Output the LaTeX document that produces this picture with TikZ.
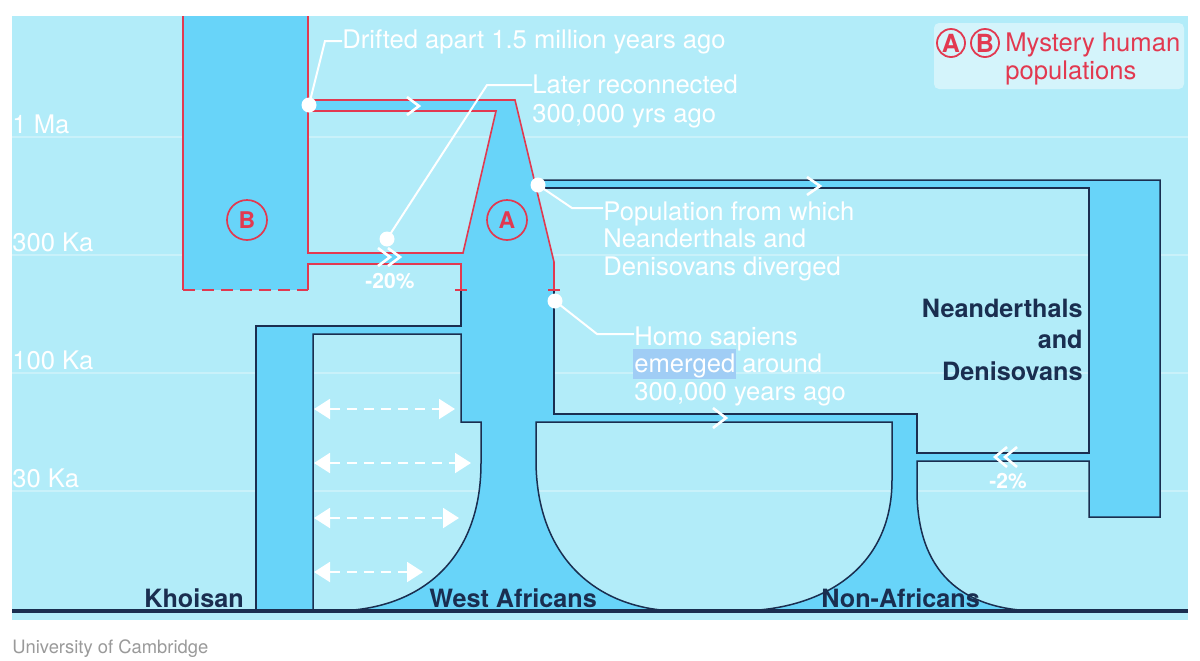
\documentclass[tikz,border=0pt]{standalone}
\usepackage{fontspec}
\setmainfont{TeX Gyre Heros}
\usetikzlibrary{arrows.meta}
\definecolor{panelblue}{HTML}{B2ECF9}
\definecolor{popblue}{HTML}{68D4F9}
\definecolor{navy}{HTML}{1A2E50}
\definecolor{mysred}{HTML}{E23950}
\definecolor{legendbg}{HTML}{D4F4FB}
\definecolor{selblue}{HTML}{A0CDF5}
\definecolor{creditgray}{HTML}{9A9A9A}
\tikzset{
  note/.style={text=white, font=\fontsize{12.8}{13.75}\selectfont,
    inner sep=0pt, align=left, anchor=base west},
  agelabel/.style={text=white, font=\fontsize{12.8}{14}\selectfont,
    inner sep=0pt, anchor=base west},
  poplabel/.style={text=navy, font=\bfseries\fontsize{12.6}{15.75}\selectfont,
    inner sep=0pt},
  flowpct/.style={text=white, font=\bfseries\fontsize{10.5}{12}\selectfont,
    inner sep=0pt, anchor=base},
  mystery/.style={circle, draw=mysred, line width=0.85pt, text=mysred,
    font=\bfseries\fontsize{11.5}{12}\selectfont, minimum size=20pt, inner sep=0pt},
  keycircle/.style={mystery, minimum size=14pt, line width=0.9pt,
    font=\bfseries\fontsize{12.5}{13}\selectfont},
  popline/.style={draw=navy, line width=0.75pt},
  redline/.style={draw=mysred, line width=0.8pt},
  leader/.style={white, line width=1pt},
  joindot/.style={circle, fill=white, minimum size=7.5pt, inner sep=0pt},
  chev/.style={white, line width=1.3pt},
  mix/.style={white, line width=1pt, dash pattern=on 5pt off 3.5pt,
    {Triangle[length=8pt,width=10pt]}-{Triangle[length=8pt,width=10pt]}},
  ageline/.style={white, opacity=0.3, line width=0.6pt},
}

\begin{document}
\begin{tikzpicture}[x=0.5pt, y=-0.5pt]

  \useasboundingbox (0,0) rectangle (1200,660);
  \fill[white] (0,0) rectangle (1200,660);
  \fill[panelblue] (12,16) rectangle (1188,620);

  % time scale
  \foreach \y in {137,255,373,491}
    \draw[ageline] (12,\y) -- (1188,\y);
  \foreach \lab/\y [count=\i] in {1 Ma/133, 300 Ka/251, 100 Ka/369, 30 Ka/487}
    \node[agelabel] (age\i) at (12,\y) {\lab};

  % population B
  \fill[popblue] (183,16) rectangle (308,290);

  % population A and everything that branches off it
  \fill[popblue, even odd rule]
    (308,100) -- (515,100) -- (534,180) -- (1160,180) -- (1160,517)
    -- (1089,517) -- (1089,461) -- (917,461) -- (917,490)
    .. controls (917,570) and (960,611) .. (1040,611) -- (737,611)
    .. controls (820,611) and (892,570) .. (892,480) -- (892,422)
    -- (536,422) -- (536,460)
    .. controls (536,560) and (600,611) .. (680,611) -- (333,611)
    .. controls (420,611) and (481,560) .. (481,463) -- (481,422)
    -- (461,422) -- (461,334) -- (313,334) -- (313,611) -- (256,611)
    -- (256,326) -- (461,326) -- (461,264) -- (308,264) -- (308,253)
    -- (463,253) -- (496,111) -- (308,111) -- cycle
    (536,188) -- (1089,188) -- (1089,453) -- (917,453) -- (917,414)
    -- (554,414) -- (554,262) -- cycle;

  % outlines
  \draw[popline] (534,180) -- (1160,180) -- (1160,517) -- (1089,517)
    -- (1089,461) -- (917,461) -- (917,490)
    .. controls (917,570) and (960,611) .. (1040,611);
  \draw[popline] (536,188) -- (1089,188) -- (1089,453) -- (917,453)
    -- (917,414) -- (554,414) -- (554,290);
  \draw[popline] (737,611) .. controls (820,611) and (892,570) .. (892,480)
    -- (892,422) -- (536,422) -- (536,460)
    .. controls (536,560) and (600,611) .. (680,611);
  \draw[popline] (333,611) .. controls (420,611) and (481,560) .. (481,463)
    -- (481,422) -- (461,422) -- (461,334) -- (313,334) -- (313,611);
  \draw[popline] (256,611) -- (256,326) -- (461,326) -- (461,290);

  \draw[redline] (183,16) -- (183,290);
  \draw[redline, dash pattern=on 6pt off 3.5pt] (183,290) -- (308,290);
  \draw[redline] (308,16) -- (308,100) -- (515,100) -- (554,262) -- (554,290);
  \draw[redline] (308,111) -- (496,111) -- (463,253) -- (308,253) -- cycle;
  \draw[redline] (308,290) -- (308,264) -- (461,264) -- (461,290);
  \draw[redline] (455,290) -- (467,290);
  \draw[redline] (548,290) -- (560,290);

  \draw[navy, line width=1.6pt] (12,611) -- (1188,611);

  % flow direction
  \draw[chev] (407,97) -- (419,106) -- (407,115);
  \draw[chev] (807,177) -- (820,186) -- (807,195);
  \draw[chev] (713,408) -- (726,418) -- (713,428);
  \draw[chev] (378,248) -- (390,257) -- (378,266)
              (388,248) -- (400,257) -- (388,266);
  \draw[chev] (1007,447) -- (995,457) -- (1007,467)
              (1017,447) -- (1005,457) -- (1017,467);
  \node[flowpct] (pct20) at (390,288) {-20\%};
  \node[flowpct] (pct2) at (1008,488) {-2\%};

  % gene flow Khoisan <-> West Africans
  \foreach \y/\xr [count=\i] in {409/455, 463/471, 518/459, 572/423} {
    \coordinate (mixL\i) at (314,\y);
    \coordinate (mixR\i) at (\xr,\y);
    \draw[mix] (mixL\i) -- (mixR\i);
  }

  \node[mystery] (popB) at (247,220) {B};
  \node[mystery] (popA) at (507,220) {A};

  \node[poplabel, anchor=base west] (khoisan) at (144,607) {Khoisan};
  \node[poplabel, anchor=base west] (westAfr) at (429,607) {West Africans};
  \node[poplabel, anchor=base west] (nonAfr) at (821,607) {Non-Africans};
  \node[poplabel, anchor=base east, align=right] (neand) at (1083,380)
    {Neanderthals\\and\\Denisovans};

  % annotations (multi-line notes sit on their last baseline)
  \node[joindot] (dotDrift) at (309,105) {};
  \node[note] (txtDrift) at (342,48) {Drifted apart 1.5 million years ago};
  \coordinate (kneeDrift) at (325,41);
  \draw[leader] (dotDrift.center) -- (kneeDrift) -- (kneeDrift -| txtDrift.west);

  \node[joindot] (dotLater) at (387,239) {};
  \node[note, font=\fontsize{12.8}{14.5}\selectfont] (txtLater) at (532,122)
    {Later reconnected\\300,000 yrs ago};
  \coordinate (kneeLater) at (487,85);
  \draw[leader] (dotLater.center) -- (kneeLater) -- (kneeLater -| txtLater.west);

  \node[joindot] (dotPop) at (538,185) {};
  \node[note] (txtPop) at (603,275)
    {Population from which\\Neanderthals and\\Denisovans diverged};
  \coordinate (kneePop) at (572,208);
  \draw[leader] (dotPop.center) -- (kneePop) -- (kneePop -| txtPop.west);

  \fill[selblue] (633,349) rectangle (736,379);
  \node[joindot] (dotHomo) at (555,301) {};
  \node[note] (txtHomo) at (634,400)
    {Homo sapiens\\emerged around\\300,000 years ago};
  \coordinate (kneeHomo) at (597,334);
  \draw[leader] (dotHomo.center) -- (kneeHomo) -- (kneeHomo -| txtHomo.west);

  % legend
  \node[fill=legendbg, rounded corners=2.5pt, minimum width=125pt,
    minimum height=33pt, inner sep=0pt] (legend) at (1059,56) {};
  \node[keycircle] (keyA) at (951,43) {A};
  \node[keycircle] (keyB) at (985,43) {B};
  \node[note, text=mysred] (legendTxt) at (1005,79) {Mystery human\\populations};

  \node[anchor=base west, inner sep=0pt, text=creditgray,
    font=\fontsize{9.2}{11}\selectfont] (credit) at (12,653) {University of Cambridge};

\end{tikzpicture}
\end{document}
